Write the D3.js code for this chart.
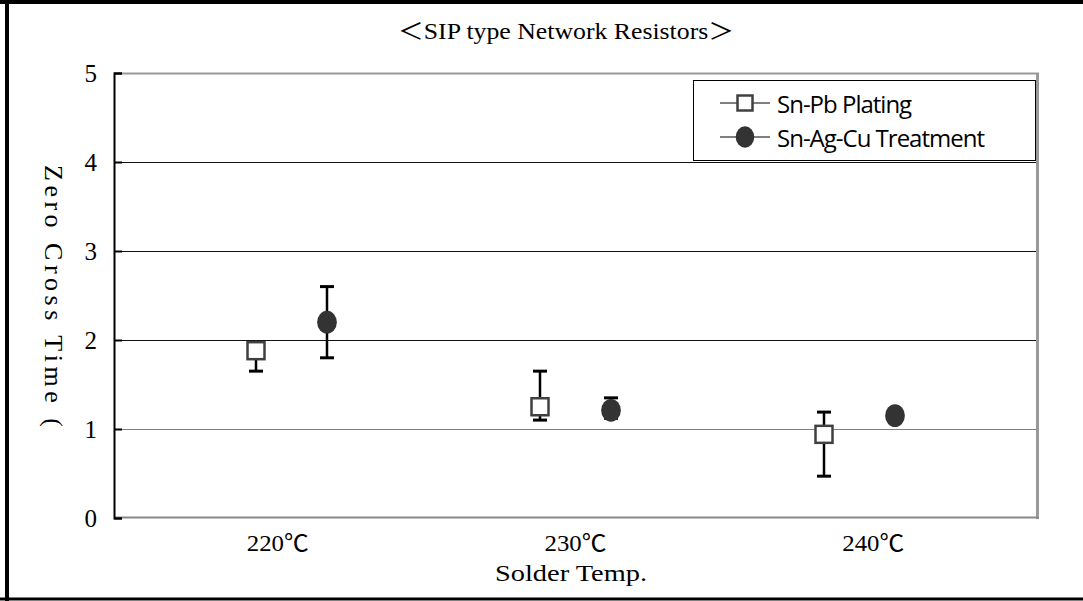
<!DOCTYPE html>
<html>
<head>
<meta charset="utf-8">
<script src="https://d3js.org/d3.v7.min.js"></script>
<style>
  html, body { margin: 0; padding: 0; background: #fff; }
  svg { display: block; }
</style>
</head>
<body>
<svg id="chart" width="1083" height="601"></svg>
<script>
// Data
const categories = ["220℃", "230℃", "240℃"];
const seriesNames = ["Sn-Pb Plating", "Sn-Ag-Cu Treatment"];
const snPbMean = [1.88, 1.25, 0.94];
const snPbHigh = [1.95, 1.65, 1.19];
const snPbLow = [1.65, 1.10, 0.47];
const snAgMean = [2.20, 1.21, 1.15];
const snAgHigh = [2.60, 1.35, 1.18];
const snAgLow = [1.80, 1.12, 1.12];
const yTicks = [0, 1, 2, 3, 4, 5];

const svg = d3.select("#chart");
const W = 1083, H = 601;
const margin = {top: 73, right: 46, bottom: 83, left: 114};
const innerWidth = W - margin.left - margin.right;
const innerHeight = H - margin.top - margin.bottom;

const serif = "'Liberation Serif', 'Noto Sans CJK JP', serif";
const sans = "'Open Sans', 'Noto Sans', sans-serif";

// outer frame
svg.append("line").attr("x1", 0).attr("x2", W).attr("y1", 2).attr("y2", 2)
  .attr("stroke", "#000").attr("stroke-width", 4);
svg.append("line").attr("x1", 7).attr("x2", 7).attr("y1", 0).attr("y2", H)
  .attr("stroke", "#000").attr("stroke-width", 4);
svg.append("line").attr("x1", 0).attr("x2", W).attr("y1", 599).attr("y2", 599)
  .attr("stroke", "#000").attr("stroke-width", 3);

// scales
const xScale = d3.scalePoint().domain(categories).range([0, innerWidth]).padding(0.625);
const xLabel = d3.scalePoint().domain(categories).range([0, innerWidth]).padding(0.55);
const xOffset = d3.scalePoint().domain(seriesNames).range([-35.5, 35.5]);
const yScale = d3.scaleLinear().domain([0, 5]).range([innerHeight, 0]);

const g = svg.append("g").attr("transform", `translate(${margin.left},${margin.top})`);

// gridlines
g.selectAll("line.grid")
  .data(yTicks.filter(d => d > 0 && d < 5))
  .enter().append("line")
    .attr("class", "grid")
    .attr("x1", 0).attr("x2", innerWidth)
    .attr("y1", d => yScale(d) + 0.5).attr("y2", d => yScale(d) + 0.5)
    .attr("stroke", d => d === 1 ? "#808080" : "#111")
    .attr("stroke-width", 1);

// plot border (grey)
g.append("line").attr("x1", 0).attr("x2", innerWidth + 2).attr("y1", 0.5).attr("y2", 0.5)
  .attr("stroke", "#999").attr("stroke-width", 2);
g.append("line").attr("x1", innerWidth + 0.5).attr("x2", innerWidth + 0.5).attr("y1", 0).attr("y2", innerHeight + 1)
  .attr("stroke", "#999").attr("stroke-width", 3);
g.append("line").attr("x1", 0).attr("x2", innerWidth + 2).attr("y1", innerHeight - 0.5).attr("y2", innerHeight - 0.5)
  .attr("stroke", "#888").attr("stroke-width", 2);

// y axis (ticks drawn inward)
const yAxis = g.append("g")
  .call(d3.axisLeft(yScale).tickValues(yTicks).tickSize(-8).tickFormat(""));
yAxis.select(".domain").attr("stroke", "#000").attr("stroke-width", 2);
yAxis.selectAll(".tick line").attr("stroke", "#000").attr("stroke-width", 2);

g.selectAll("text.ylab")
  .data(yTicks)
  .enter().append("text")
    .attr("class", "ylab")
    .attr("x", -17)
    .attr("y", d => yScale(d) + 9)
    .attr("text-anchor", "end")
    .attr("font-family", serif).attr("font-size", 25)
    .text(d => d);

// x labels
g.selectAll("text.xlab")
  .data(categories)
  .enter().append("text")
    .attr("class", "xlab")
    .attr("x", d => xLabel(d))
    .attr("y", innerHeight + 33)
    .attr("text-anchor", "middle")
    .attr("font-family", serif).attr("font-size", 23)
    .attr("textLength", 62).attr("lengthAdjust", "spacingAndGlyphs")
    .text(d => d);

// axis titles
svg.append("text")
  .attr("x", 571).attr("y", 581)
  .attr("text-anchor", "middle")
  .attr("font-family", serif).attr("font-size", 23)
  .attr("textLength", 152).attr("lengthAdjust", "spacingAndGlyphs")
  .text("Solder Temp.");

svg.append("text")
  .attr("transform", "translate(45,296) rotate(90)")
  .attr("text-anchor", "middle")
  .attr("font-family", serif).attr("font-size", 26)
  .attr("textLength", 262).attr("lengthAdjust", "spacing")
  .text("Zero Cross Time (");

// title
svg.append("text")
  .attr("x", 566).attr("y", 39)
  .attr("text-anchor", "middle")
  .attr("font-family", serif).attr("font-size", 23)
  .attr("textLength", 336).attr("lengthAdjust", "spacingAndGlyphs")
  .text("＜SIP type Network Resistors＞");

// series data
const series = [
  {name: seriesNames[0], mean: snPbMean, high: snPbHigh, low: snPbLow, shape: "square"},
  {name: seriesNames[1], mean: snAgMean, high: snAgHigh, low: snAgLow, shape: "circle"}
];

const pts = [];
series.forEach(s => {
  categories.forEach((c, i) => {
    pts.push({series: s.name, shape: s.shape, cat: c, mean: s.mean[i], high: s.high[i], low: s.low[i]});
  });
});

const px = d => xScale(d.cat) + xOffset(d.series);
const cap = 7;

// error bars
const eb = g.selectAll("g.err").data(pts).enter().append("g").attr("class", "err");
eb.append("line")
  .attr("x1", px).attr("x2", px)
  .attr("y1", d => yScale(d.high)).attr("y2", d => yScale(d.low))
  .attr("stroke", "#000").attr("stroke-width", 2.5);
eb.append("line")
  .attr("x1", d => px(d) - cap).attr("x2", d => px(d) + cap)
  .attr("y1", d => yScale(d.high)).attr("y2", d => yScale(d.high))
  .attr("stroke", "#000").attr("stroke-width", 3);
eb.append("line")
  .attr("x1", d => px(d) - cap).attr("x2", d => px(d) + cap)
  .attr("y1", d => yScale(d.low)).attr("y2", d => yScale(d.low))
  .attr("stroke", "#000").attr("stroke-width", 3);

// markers
function drawMarker(sel, shape, size) {
  if (shape === "square") {
    sel.append("rect")
      .attr("x", -size / 2).attr("y", -size / 2)
      .attr("width", size).attr("height", size)
      .attr("fill", "#fff").attr("stroke", "#404040").attr("stroke-width", 2.5);
  } else {
    sel.append("ellipse")
      .attr("rx", size * 0.58).attr("ry", size * 0.67)
      .attr("fill", "#333");
  }
}

g.selectAll("g.mark").data(pts).enter().append("g")
  .attr("class", "mark")
  .attr("transform", d => `translate(${px(d)},${yScale(d.mean)})`)
  .each(function(d) { drawMarker(d3.select(this), d.shape, 17); });

// legend
const legend = svg.append("g");
legend.append("rect")
  .attr("x", 693.5).attr("y", 80.5).attr("width", 342).attr("height", 80)
  .attr("fill", "#fff").attr("stroke", "#000").attr("stroke-width", 1);

const legendRows = [103, 137];
series.forEach((s, i) => {
  const row = legend.append("g").attr("transform", `translate(745,${legendRows[i]})`);
  row.append("line").attr("x1", -25).attr("x2", 25).attr("y1", 0).attr("y2", 0)
    .attr("stroke", "#000").attr("stroke-width", 1);
  drawMarker(row, s.shape, s.shape === "square" ? 15 : 16);
  row.append("text")
    .attr("x", 32).attr("y", 10)
    .attr("font-family", sans).attr("font-size", 24)
    .attr("letter-spacing", -1)
    .text(s.name);
});
</script>
</body>
</html>
